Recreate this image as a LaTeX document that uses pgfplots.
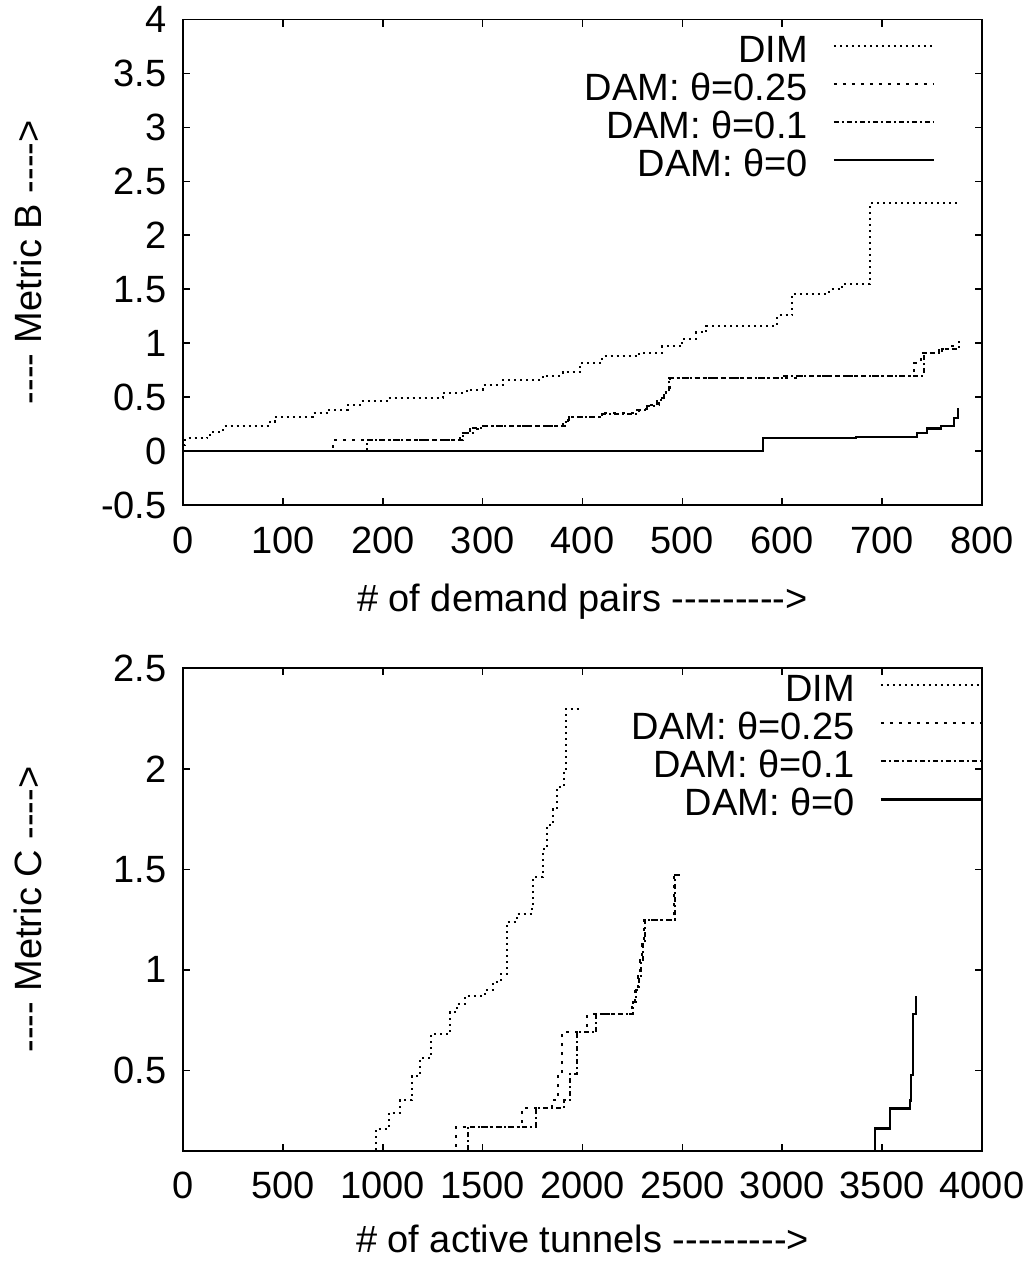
\documentclass[border=0pt]{standalone}
\usepackage{fontspec}
\setmainfont{Liberation Sans}[Ligatures=TeXOff]
\usepackage{pgfplots}
\pgfplotsset{compat=1.18}
\newcommand\fs{\fontsize{19}{22.8}\selectfont}
\pgfplotsset{
  myaxis/.style={
    scale only axis, width=399.5pt,
    axis line style={line width=0.9pt},
    tick align=inside, tick pos=both, major tick length=3.5pt,
    every tick/.style={black, line width=0.8pt},
    tick label style={font=\fs},
    label style={font=\fs},
    /pgf/number format/assume math mode=true,
    /pgf/number format/1000 sep={},
    scaled ticks=false,
    xticklabel style={yshift=-7.2pt},
    yticklabel style={xshift=-4.7pt},
    every axis y label/.style={at={(axis description cs:-0.1765,0.5)}, rotate=90, anchor=base, font=\fs},
    clip=true,
    legend plot pos=right, legend cell align=right,
    legend image code/.code={\draw[##1] (0pt,2.75pt) -- (50pt,2.75pt);},
    legend style={draw=none, fill=none, inner sep=0pt, outer sep=0pt,
      column sep=12.5pt, row sep=2.3pt, font=\fs,
      nodes={inner sep=0pt, text height=13.7pt, text depth=3pt}},
  },
  dimS/.style={black, line width=1pt, dash pattern=on 1pt off 2pt, const plot},
  d25S/.style={black, line width=1pt, dash pattern=on 1.5pt off 3pt, const plot},
  d10S/.style={black, line width=1pt, dash pattern=on 2.5pt off 1.5pt on 1pt off 1.5pt, const plot},
  d0S/.style={black, line width=1.1pt, solid, const plot},
}
\begin{document}
\begin{tikzpicture}
\begin{axis}[myaxis, at={(0,0)}, anchor=south west, height=242.75pt,
  xmin=0, xmax=800, ymin=-0.5, ymax=4,
  xtick={0,100,...,800}, ytick={-0.5,0,0.5,1,1.5,2,2.5,3,3.5,4},
  xlabel={\# of demand pairs --------->},
  ylabel={---- Metric B ---->},
  every axis x label/.style={at={(axis description cs:0.5,-0.22)}, anchor=base, font=\fs},
  legend style={at={(rel axis cs:1,1)}, anchor=north east, xshift=-23.5pt, yshift=-7.8pt},
]
\addplot[dimS] coordinates {
(0,0.06) (2,0.12) (24,0.15) (30,0.18) (40,0.23) (87,0.27) (92,0.32) (130,0.35)
(144,0.38) (165,0.43) (179,0.46) (204,0.49) (260,0.54) (284,0.57) (300,0.61)
(320,0.66) (360,0.70) (380,0.73) (397,0.78) (400,0.82) (420,0.88) (457,0.91)
(480,0.97) (500,1.04) (514,1.10) (524,1.16) (595,1.26) (610,1.46) (647,1.50)
(660,1.55) (688,2.30) (775,2.30)};
\addlegendentry{DIM}
\addplot[d25S] coordinates {
(0,0) (150,0.10) (277,0.17) (287,0.20) (297,0.23) (380,0.27) (385,0.32) (420,0.35)
(457,0.39) (467,0.43) (477,0.49) (484,0.57) (488,0.68) (620,0.70) (732,0.82)
(739,0.91) (757,0.95) (770,0.97) (777,0.98)};
\addlegendentry{DAM: θ=0.25}
\addplot[d10S] coordinates {
(0,0) (184,0.10) (280,0.17) (290,0.21) (298,0.23) (382,0.27) (386,0.32) (420,0.34)
(455,0.38) (465,0.42) (475,0.47) (482,0.55) (487,0.68) (600,0.70) (742,0.91)
(760,0.95) (777,1.02)};
\addlegendentry{DAM: θ=0.1}
\addplot[d0S] coordinates {
(0,0) (581,0.12) (674,0.13) (735,0.17) (745,0.21) (759,0.23) (772,0.31) (776,0.39) (777,0.39)};
\addlegendentry{DAM: θ=0}
\end{axis}

\begin{axis}[myaxis, at={(0,-322.85pt)}, anchor=south west, height=241.2pt,
  xmin=0, xmax=4000, ymin=0.1, ymax=2.5,
  xtick={0,500,...,4000}, ytick={0.5,1,1.5,2,2.5},
  xlabel={\# of active tunnels --------->},
  ylabel={---- Metric C ---->},
  every axis x label/.style={at={(axis description cs:0.5,-0.212)}, anchor=base, font=\fs},
  legend style={at={(rel axis cs:1,1)}, anchor=north east, xshift=0pt, yshift=-2.95pt},
]
\addplot[dimS] coordinates {
(900,0.05) (965,0.21) (1030,0.29) (1085,0.35) (1145,0.47) (1185,0.56) (1240,0.68)
(1335,0.79) (1370,0.83) (1410,0.87) (1510,0.90) (1550,0.94) (1590,0.98) (1620,1.24)
(1670,1.28) (1745,1.31) (1752,1.46) (1800,1.60) (1820,1.72) (1850,1.80) (1870,1.91)
(1905,2.00) (1915,2.30) (1985,2.30)};
\addlegendentry{DIM}
\addplot[d25S] coordinates {
(1300,0.05) (1365,0.22) (1695,0.31) (1845,0.35) (1878,0.48) (1897,0.69) (2025,0.78)
(2250,0.84) (2262,0.90) (2280,0.97) (2290,1.05) (2300,1.13) (2310,1.25) (2460,1.47) (2485,1.47)};
\addlegendentry{DAM: θ=0.25}
\addplot[d10S] coordinates {
(1350,0.05) (1427,0.22) (1767,0.31) (1907,0.35) (1937,0.48) (1972,0.69) (2070,0.78)
(2255,0.84) (2266,0.90) (2283,0.97) (2293,1.05) (2303,1.13) (2313,1.25) (2465,1.47) (2490,1.47)};
\addlegendentry{DAM: θ=0.1}
\addplot[d0S] coordinates {
(3400,0.05) (3465,0.21) (3540,0.31) (3640,0.35) (3645,0.475) (3655,0.78) (3670,0.87)};
\addlegendentry{DAM: θ=0}
\end{axis}
\pgfresetboundingbox
\path (-91.5pt,-380.5pt) rectangle (420pt,252.5pt);
\end{tikzpicture}
\end{document}
